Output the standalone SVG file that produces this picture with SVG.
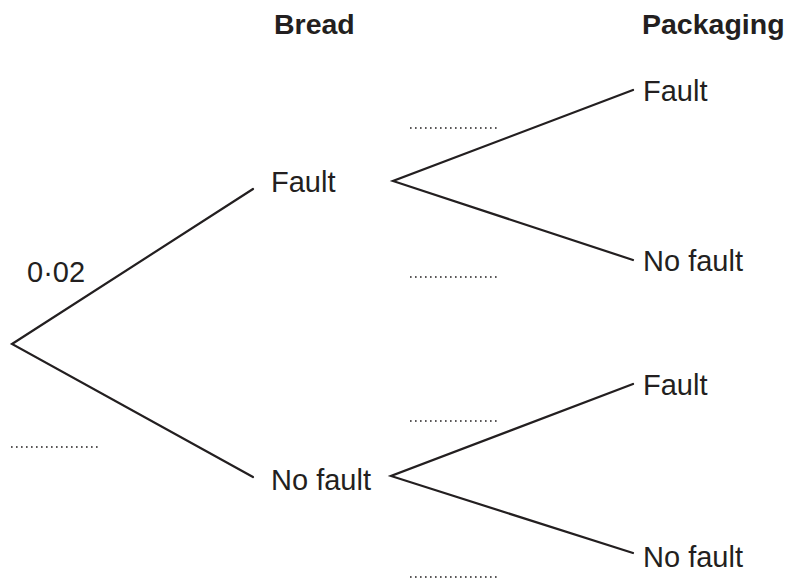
<svg xmlns="http://www.w3.org/2000/svg" width="790" height="585" viewBox="0 0 790 585">
<style>
.t{font-family:"Liberation Sans",Arial,sans-serif;font-size:29px;fill:#231f20}
.h{font-weight:bold;font-size:28.5px}
.b{stroke:#231f20;stroke-width:2.2;fill:none;stroke-linecap:round}
.d{stroke:#231f20;stroke-width:1.4;stroke-dasharray:1.6 3.4;fill:none}
</style>
<rect width="790" height="585" fill="#fff"/>
<g id="headings">
<text class="t h" x="274" y="34">Bread</text>
<text class="t h" x="642" y="34">Packaging</text>
</g>
<g id="connectors">
<polyline class="b" points="253,189 12,344 253,477"/>
<polyline class="b" points="633,90 393,181 633,260"/>
<polyline class="b" points="633,384 391,476 633,553"/>
</g>
<g id="blanks">
<line class="d" x1="410" y1="128" x2="497" y2="128"/>
<line class="d" x1="410" y1="277" x2="497" y2="277"/>
<line class="d" x1="410" y1="421" x2="497" y2="421"/>
<line class="d" x1="410" y1="577" x2="497" y2="577"/>
<line class="d" x1="11" y1="447" x2="98" y2="447"/>
</g>
<g id="node-root-prob"><text class="t" x="27" y="282">0·02</text></g>
<g id="node-bread-fault"><text class="t" x="271" y="192">Fault</text></g>
<g id="node-bread-nofault"><text class="t" x="271" y="490">No fault</text></g>
<g id="node-pack-ff"><text class="t" x="643" y="101">Fault</text></g>
<g id="node-pack-fn"><text class="t" x="643" y="271">No fault</text></g>
<g id="node-pack-nf"><text class="t" x="643" y="395">Fault</text></g>
<g id="node-pack-nn"><text class="t" x="643" y="567">No fault</text></g>
</svg>
